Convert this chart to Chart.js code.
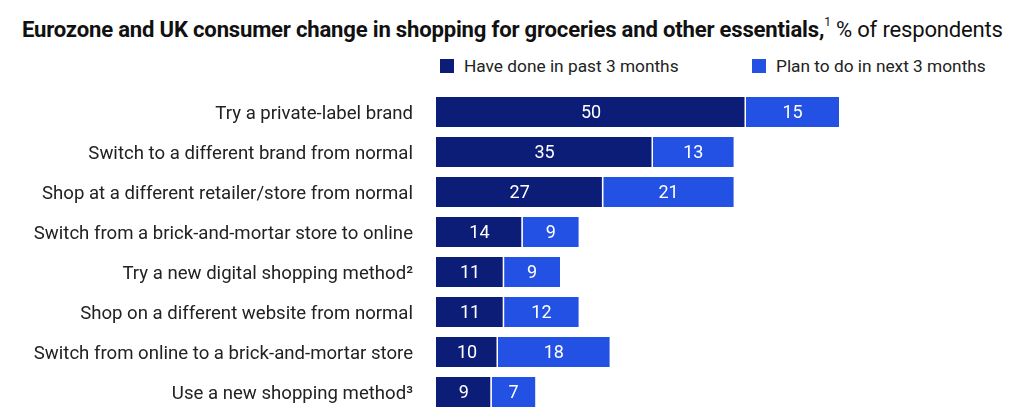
<!DOCTYPE html>
<html><head><meta charset="utf-8">
<script src="https://cdn.jsdelivr.net/npm/chart.js@4"></script>
<style>
html,body{margin:0;padding:0;background:#fff;width:1024px;height:414px;overflow:hidden;font-family:Roboto,"Liberation Sans",sans-serif;}
#wrap{position:relative;width:1024px;height:414px;}
#title{position:absolute;left:22px;top:16px;font-size:22.1px;color:#111;white-space:nowrap;letter-spacing:-0.2px;}
#title b{font-weight:700;}
#title sup{font-size:12px;vertical-align:top;position:relative;top:-1px;}
.leg{position:absolute;top:56px;font-size:17.3px;color:#222;white-space:nowrap;display:flex;align-items:center;}
.leg i{display:inline-block;width:14px;height:14px;margin-right:10px;}
#cw{position:absolute;left:0;top:0;width:1024px;height:414px;}
</style></head>
<body><div id="wrap">
<div id="title"><b>Eurozone and UK consumer change in shopping for groceries and other essentials,</b><sup>1</sup> % of respondents</div>
<div class="leg" style="left:440px"><i style="background:#0c1d78"></i>Have done in past 3 months</div>
<div class="leg" style="left:752px"><i style="background:#2251e3"></i>Plan to do in next 3 months</div>
<div id="cw"><canvas id="c"></canvas></div>
</div>
<script>
const categories = [
  "Try a private-label brand",
  "Switch to a different brand from normal",
  "Shop at a different retailer/store from normal",
  "Switch from a brick-and-mortar store to online",
  "Try a new digital shopping method\u00B2",
  "Shop on a different website from normal",
  "Switch from online to a brick-and-mortar store",
  "Use a new shopping method\u00B3"
];
const seriesNames = ["Have done in past 3 months", "Plan to do in next 3 months"];
const haveDone = [50, 35, 27, 14, 11, 11, 10, 9];
const planToDo = [15, 13, 21, 9, 9, 12, 18, 7];

const FONT = 'Roboto, "Liberation Sans", sans-serif';
const labelPlugin = {
  id: 'barLabels',
  afterDatasetsDraw(chart) {
    const ctx = chart.ctx;
    ctx.save();
    ctx.fillStyle = '#fff';
    ctx.font = '18px ' + FONT;
    ctx.textAlign = 'center';
    ctx.textBaseline = 'middle';
    chart.data.datasets.forEach((ds, di) => {
      chart.getDatasetMeta(di).data.forEach((bar, i) => {
        const p = bar.getProps(['x', 'y', 'base'], true);
        ctx.fillText(String(ds.data[i]), (p.x + p.base) / 2, p.y + 1);
      });
    });
    ctx.restore();
  }
};

new Chart(document.getElementById('c'), {
  type: 'bar',
  data: {
    labels: categories,
    datasets: [
      { label: seriesNames[0], data: haveDone, backgroundColor: '#0c1d78',
        borderColor: '#ffffff', borderWidth: {left:0, top:0, bottom:0, right:1.5}, borderSkipped: false },
      { label: seriesNames[1], data: planToDo, backgroundColor: '#2251e3', borderWidth: 0 }
    ]
  },
  options: {
    indexAxis: 'y',
    responsive: true,
    maintainAspectRatio: false,
    animation: false,
    layout: { padding: { top: 92, bottom: 2, left: 0, right: 30 } },
    plugins: { legend: { display: false }, tooltip: { enabled: false } },
    datasets: { bar: { categoryPercentage: 0.75, barPercentage: 1 } },
    scales: {
      x: { stacked: true, min: 0, max: 90, display: false },
      y: {
        stacked: true,
        grid: { display: false, drawTicks: false },
        border: { display: false },
        ticks: { color: '#222', padding: 23, labelOffset: 2, font: { size: 18.6, family: FONT } },
        afterFit(scale) { scale.width = 436; scale.paddingTop = 0; scale.paddingBottom = 0; }
      }
    }
  },
  plugins: [labelPlugin]
});
</script>
</body></html>
